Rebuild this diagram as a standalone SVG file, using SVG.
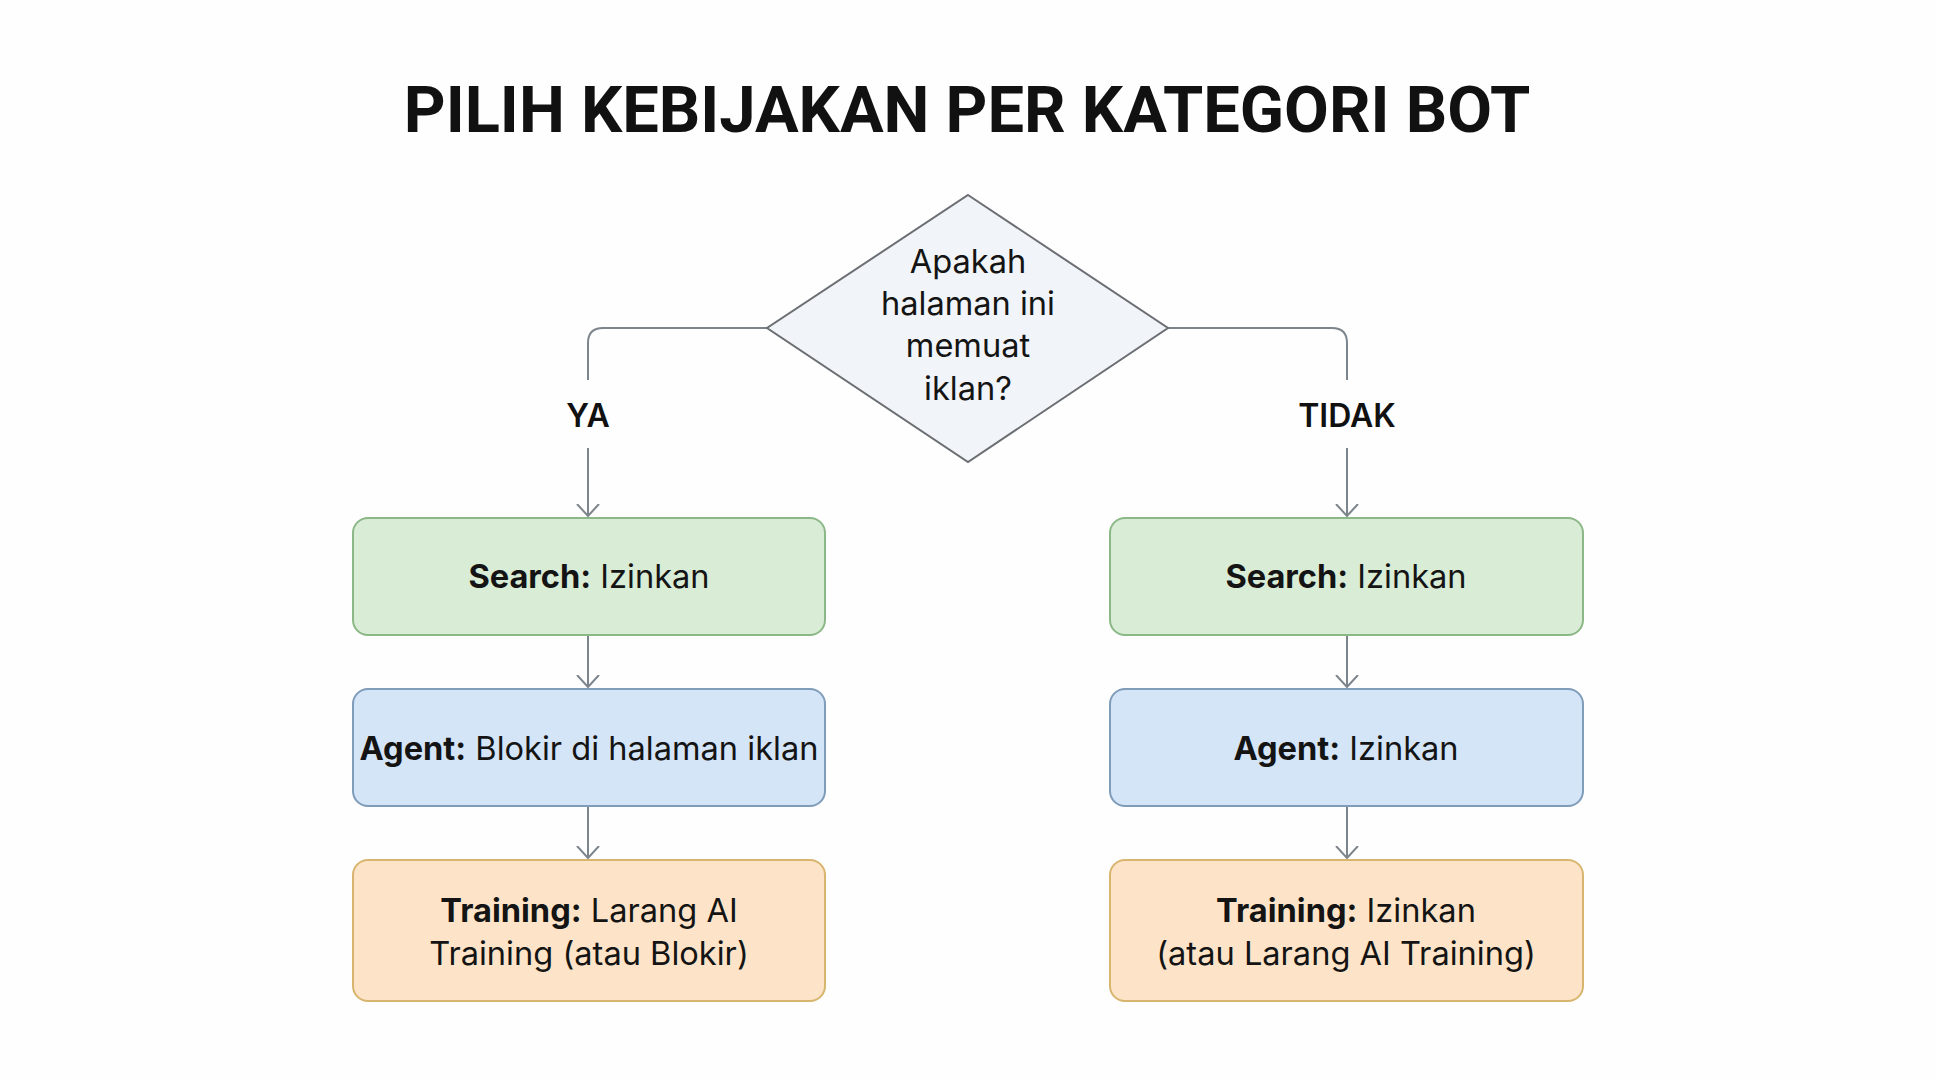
<svg xmlns="http://www.w3.org/2000/svg" width="1935" height="1080" viewBox="0 0 1935 1080">
<style>
  .t { font-family: Inter, "Noto Sans", "Liberation Sans", sans-serif; font-size: 32.6px; fill: #141414; text-anchor: middle; }
  .b { font-weight: 700; }
  .lbl { font-family: Inter, "Liberation Sans", sans-serif; font-size: 32px; font-weight: 600; fill: #111; text-anchor: middle; }
  .title { font-family: Roboto, "Liberation Sans", sans-serif; font-size: 65px; font-weight: 700; fill: #111; text-anchor: middle; }
  .conn { fill: none; stroke: #7d858c; stroke-width: 2; }
  .green { fill: #d9ecd6; stroke: #8cb887; stroke-width: 2; }
  .blue { fill: #d5e5f8; stroke: #7f9cb9; stroke-width: 2; }
  .orange { fill: #fde4c8; stroke: #d8b56e; stroke-width: 2; }
  .dia { fill: #f1f4f8; stroke: #6b6f73; stroke-width: 2; }
</style>
<defs>
  <marker id="arr" markerUnits="userSpaceOnUse" markerWidth="30" markerHeight="30" refX="12" refY="15" orient="auto">
    <path d="M0,4 L12,15 L0,26" fill="none" stroke="#7d858c" stroke-width="2"/>
  </marker>
</defs>
<rect x="0" y="0" width="1935" height="1080" fill="#fefefe"/>
<text class="title" x="967" y="132">PILIH KEBIJAKAN PER KATEGORI BOT</text>

<g id="connectors">
  <path class="conn" d="M767,328 H603 Q588,328 588,343 V380"/>
  <path class="conn" d="M588,448 V516" marker-end="url(#arr)"/>
  <path class="conn" d="M1168,328 H1332 Q1347,328 1347,343 V380"/>
  <path class="conn" d="M1347,448 V516" marker-end="url(#arr)"/>
  <path class="conn" d="M588,636 V687" marker-end="url(#arr)"/>
  <path class="conn" d="M588,807 V858" marker-end="url(#arr)"/>
  <path class="conn" d="M1347,636 V687" marker-end="url(#arr)"/>
  <path class="conn" d="M1347,807 V858" marker-end="url(#arr)"/>
  <text class="lbl" x="588" y="427">YA</text>
  <text class="lbl" x="1347" y="427">TIDAK</text>
</g>

<g id="decision">
  <polygon class="dia" points="968,195 1168,328 968,462 767,328"/>
  <text class="t" x="968" y="273">Apakah</text>
  <text class="t" x="968" y="315">halaman ini</text>
  <text class="t" x="968" y="357">memuat</text>
  <text class="t" x="968" y="400">iklan?</text>
</g>

<g id="yes-search">
  <rect class="green" x="353" y="518" width="472" height="117" rx="15"/>
  <text class="t" x="589" y="588"><tspan class="b">Search:</tspan> Izinkan</text>
</g>
<g id="yes-agent">
  <rect class="blue" x="353" y="689" width="472" height="117" rx="15"/>
  <text class="t" x="589" y="760"><tspan class="b">Agent:</tspan> Blokir di halaman iklan</text>
</g>
<g id="yes-training">
  <rect class="orange" x="353" y="860" width="472" height="141" rx="15"/>
  <text class="t" x="589" y="922"><tspan class="b">Training:</tspan> Larang AI</text>
  <text class="t" x="589" y="965">Training (atau Blokir)</text>
</g>

<g id="no-search">
  <rect class="green" x="1110" y="518" width="473" height="117" rx="15"/>
  <text class="t" x="1346" y="588"><tspan class="b">Search:</tspan> Izinkan</text>
</g>
<g id="no-agent">
  <rect class="blue" x="1110" y="689" width="473" height="117" rx="15"/>
  <text class="t" x="1346" y="760"><tspan class="b">Agent:</tspan> Izinkan</text>
</g>
<g id="no-training">
  <rect class="orange" x="1110" y="860" width="473" height="141" rx="15"/>
  <text class="t" x="1346" y="922"><tspan class="b">Training:</tspan> Izinkan</text>
  <text class="t" x="1346" y="965">(atau Larang AI Training)</text>
</g>
</svg>
